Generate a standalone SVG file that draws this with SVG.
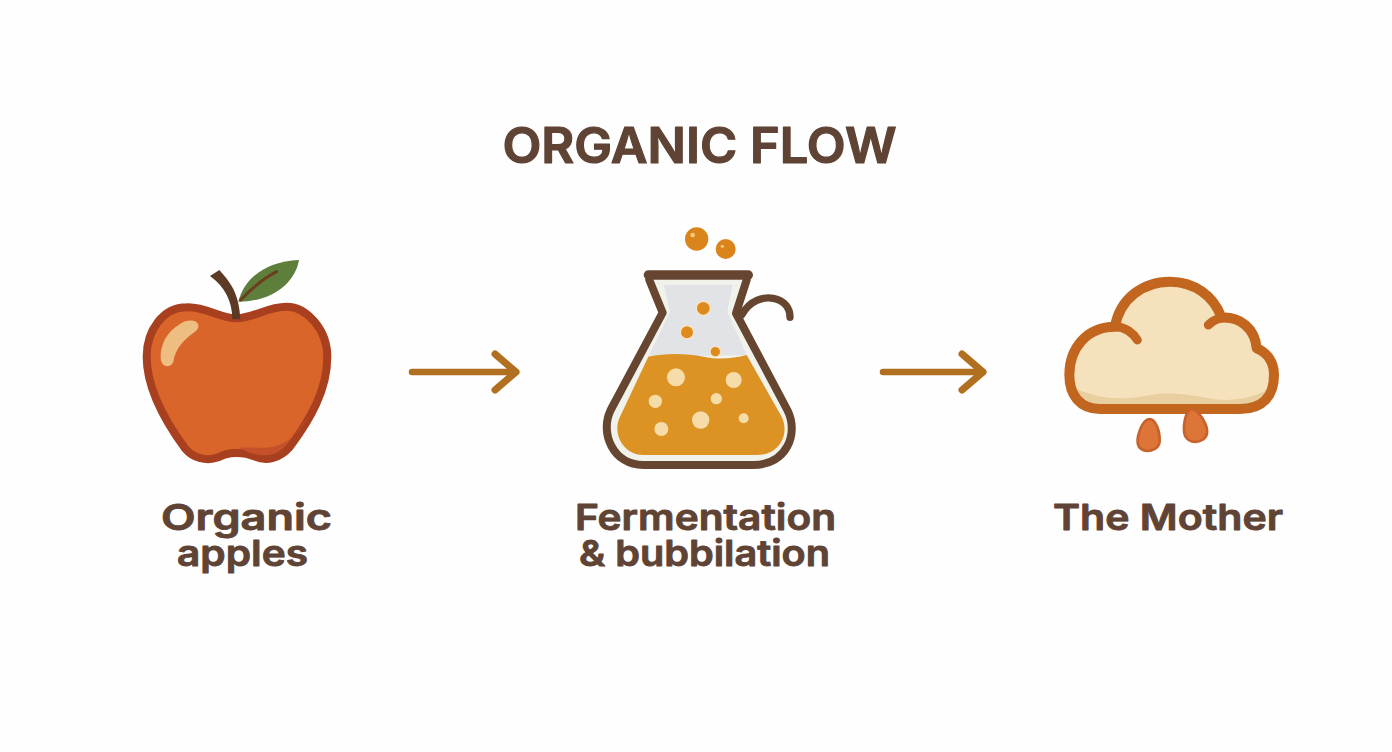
<svg xmlns="http://www.w3.org/2000/svg" width="1392" height="752" viewBox="0 0 1392 752">
<defs>
<style>
text{font-family:"Inter","Liberation Sans",sans-serif;font-weight:600;fill:#5f4334;stroke:#5f4334;stroke-linejoin:round;text-anchor:middle}
.title{font-size:50px;stroke-width:1.2px}
.label{font-size:36px;stroke-width:.9px}
.flow{fill:none;stroke:#b0701f;stroke-width:6.5;stroke-linecap:round}
.light{fill:#f5dca8}
.rise{fill:#dd8a1e;stroke:#f8e6c4;stroke-width:4}
.up{fill:#d9851c}
.spark{fill:#f7c877}
.ink{fill:none;stroke:#664630;stroke-linecap:round;stroke-linejoin:round}
.rust{fill:none;stroke:#c2661f;stroke-linecap:round;stroke-linejoin:round}
.drop{fill:#dd7539;stroke:#c9622a;stroke-width:8}
</style>
<marker id="head" markerUnits="userSpaceOnUse" markerWidth="40" markerHeight="50" refX="31" refY="25" orient="auto">
<path d="M10 7 L31 25 L10 43" fill="none" stroke="#b0701f" stroke-width="7" stroke-linecap="round" stroke-linejoin="round"/>
</marker>
</defs>
<rect width="1392" height="752" fill="#fefefe"/>
<text id="title" class="title" x="699.5" y="163" textLength="394" lengthAdjust="spacingAndGlyphs">ORGANIC FLOW</text>

<g id="connectors">
<path class="flow" d="M412 372 H516" marker-end="url(#head)"/>
<path class="flow" d="M883 372 H983" marker-end="url(#head)"/>
</g>

<g id="node-apple">
<g transform="translate(130 250) scale(.33333)">
<path d="M320,205 C270,205 230,170 170,172 C100,172 50,240 50,320 C50,420 110,520 165,595 C190,625 230,635 265,622 C295,605 340,605 375,620 C410,635 450,625 480,590 C540,510 592,420 592,320 C592,240 530,170 470,170 C410,170 370,205 320,205 Z" fill="#d9652a" stroke="#a83f1e" stroke-width="24"/>
<path d="M568,435 C530,520 490,582 420,592 C390,596 350,590 325,594 C345,600 360,612 375,612 C410,622 450,612 472,580 C510,535 548,490 568,435 Z" fill="#c4512a"/>
<path d="M205,225 C200,208 170,208 150,222 C110,245 90,285 92,325 C95,355 122,355 130,335 C135,295 165,265 195,245 C202,240 207,232 205,225 Z" fill="#eebd80"/>
<path d="M325,155 C345,80 410,35 507,30 C495,100 425,155 325,155 Z" fill="#5e7e3c"/>
<path d="M332,150 C365,115 400,85 440,65" fill="none" stroke="#6b3e20" stroke-width="9" stroke-linecap="round"/>
<path d="M240,78 L268,60 C300,95 328,130 331,208 L307,208 C307,155 285,110 240,78 Z" fill="#5c3a26"/>
</g>
<text class="label" x="246.5" y="530" textLength="171" lengthAdjust="spacingAndGlyphs">Organic</text>
<text class="label" x="242.5" y="566" textLength="131" lengthAdjust="spacingAndGlyphs">apples</text>
</g>

<g id="node-flask">
<g transform="translate(590 220) scale(.33333)">
<path d="M180,180 L222,278 L65,570 C30,640 70,735 160,735 L490,735 C590,735 625,640 590,570 L440,280 L470,180 Z" fill="#f1f2ec"/>
<path d="M222,195 L428,195 L412,275 L470,405 L175,410 L240,275 Z" fill="#e2e3e7"/>
<path d="M175,410 C230,398 290,400 340,410 C390,420 430,415 470,405 L575,590 C600,640 570,705 500,705 L160,705 C100,705 65,640 90,590 Z" fill="#dd9323"/>
<path class="ink" d="M178,180 L218,278 L62,570 C28,640 70,735 160,735 L490,735 C590,735 628,640 592,570 L438,280 L470,180" stroke-width="24"/>
<path class="ink" d="M175,165 H475" stroke-width="28"/>
<path class="ink" d="M455,285 C480,240 520,230 550,235 C585,242 600,265 600,292" stroke-width="22"/>
<circle class="up" cx="320" cy="57" r="35"/>
<circle class="up" cx="407" cy="87" r="30"/>
<circle class="spark" cx="308" cy="45" r="7"/>
<circle class="spark" cx="397" cy="79" r="5"/>
<circle class="rise" cx="340" cy="265" r="21"/>
<circle class="rise" cx="291" cy="337" r="20"/>
<circle class="rise" cx="376" cy="395" r="16"/>
<circle class="light" cx="258" cy="472" r="27"/>
<circle class="light" cx="431" cy="480" r="24"/>
<circle class="light" cx="196" cy="544" r="20"/>
<circle class="light" cx="379" cy="536" r="17"/>
<circle class="light" cx="332" cy="600" r="26"/>
<circle class="light" cx="214" cy="627" r="21"/>
<circle class="light" cx="461" cy="595" r="15"/>
</g>
<text class="label" x="705.5" y="530" textLength="261" lengthAdjust="spacingAndGlyphs">Fermentation</text>
<text class="label" x="704.5" y="566" textLength="251" lengthAdjust="spacingAndGlyphs">&amp; bubbilation</text>
</g>

<g id="node-mother">
<g transform="translate(1050 265) scale(.33333)">
<path d="M150,432 L570,432 C640,432 672,390 672,330 C672,290 650,262 620,250 C615,190 570,155 515,158 C490,90 430,50 360,50 C280,50 210,100 195,185 C110,185 58,250 58,330 C58,390 90,432 150,432 Z" fill="#f5e2bc"/>
<path d="M75,370 C150,405 220,405 290,392 C360,378 420,390 490,402 C550,410 610,400 660,370 C650,410 610,425 570,425 L150,425 C110,425 85,405 75,370 Z" fill="#e9cf9f"/>
<path class="rust" d="M150,432 L570,432 C640,432 672,390 672,330 C672,290 650,262 620,250 C615,190 570,155 515,158 C490,90 430,50 360,50 C280,50 210,100 195,185 C110,185 58,250 58,330 C58,390 90,432 150,432 Z" stroke-width="30"/>
<path class="rust" d="M195,185 C225,185 250,205 262,225 M475,180 C490,165 505,158 530,157" stroke-width="27"/>
<path class="drop" d="M298,462 C318,462 330,500 329,530 C326,558 285,566 267,546 C254,525 275,464 298,462 Z"/>
<path class="drop" d="M425,432 C445,434 475,480 471,505 C466,537 410,541 403,505 C399,480 407,434 425,432 Z"/>
</g>
<text class="label" x="1168" y="530" textLength="230" lengthAdjust="spacingAndGlyphs">The Mother</text>
</g>
</svg>
